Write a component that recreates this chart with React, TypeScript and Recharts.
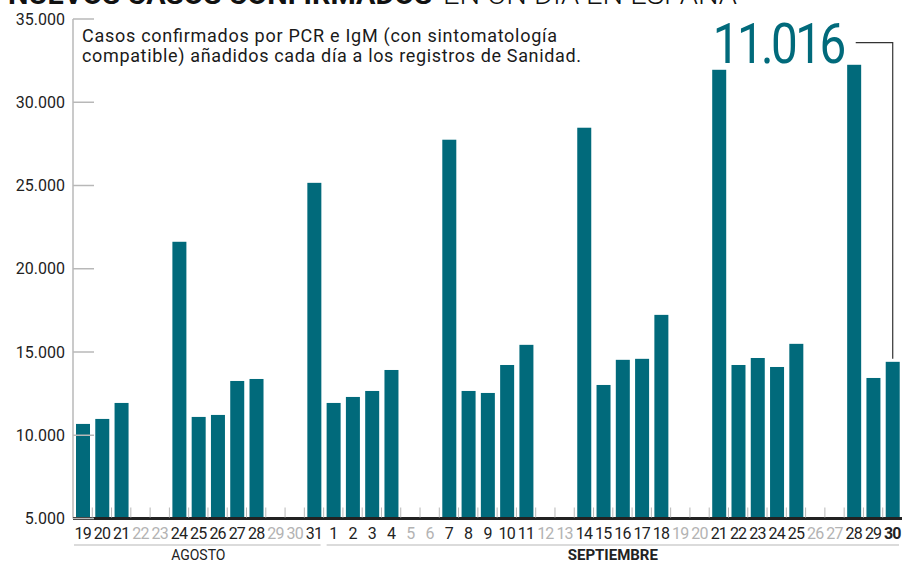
import { BarChart, Bar, XAxis, YAxis } from 'recharts'

const augustDays = ['19', '20', '21', '22', '23', '24', '25', '26', '27', '28', '29', '30', '31']
const septemberDays = [
  '1', '2', '3', '4', '5', '6', '7', '8', '9', '10', '11', '12', '13', '14', '15',
  '16', '17', '18', '19', '20', '21', '22', '23', '24', '25', '26', '27', '28', '29', '30',
]
// null = fin de semana, sin datos
const augustCases = [10680, 10980, 11940, null, null, 21620, 11100, 11220, 13260, 13380, null, null, 25160]
const septemberCases = [
  11940, 12300, 12660, 13920, null, null, 27750, 12660, 12540, 14220, 15430, null, null, 28470, 13020,
  14530, 14590, 17230, null, null, 31950, 14220, 14640, 14100, 15490, null, null, 32250, 13440, 14410,
]
const months = ['AGOSTO', 'SEPTIEMBRE']
const yTicks = [5000, 10000, 15000, 20000, 25000, 30000, 35000]
const highlight = '11.016'

const data = [
  ...augustDays.map((day, i) => ({ key: `${day}-ago`, day, month: 0, cases: augustCases[i] })),
  ...septemberDays.map((day, i) => ({ key: `${day}-sep`, day, month: 1, cases: septemberCases[i] })),
]
const monthCounts = months.map((_, m) => data.filter(d => d.month === m).length)
const lastIndex = data.length - 1
const lastKey = data[lastIndex].key

const TEAL = '#016a7b'
const FONT = 'Roboto, "Noto Sans", sans-serif'

const fmt = (n: number) => n.toString().replace(/\B(?=(\d{3})+(?!\d))/g, '.')

const ValueTick = (props: any) => {
  const { x, y, payload } = props
  return (
    <g>
      <line x1={x + 8} x2={x + 29} y1={y} y2={y} stroke="#b8b8b8" strokeWidth={1.5} />
      <text x={x} y={y} dy={5.5} textAnchor="end" fontSize={16} fill="#222" fontFamily={FONT}>
        {fmt(payload.value)}
      </text>
    </g>
  )
}

const DayTick = (props: any) => {
  const { x, y, payload, index, width } = props
  const half = payload.offset ?? width / (2 * data.length)
  const row = data[index]
  if (!row) return null
  const left = x - half
  const isLast = index === lastIndex
  const empty = row.cases == null
  const firstOfMonth = index === 0 || data[index - 1].month !== row.month
  const span = monthCounts[row.month] * half * 2
  return (
    <g>
      {index > 0 && <line x1={left} x2={left} y1={y - 11} y2={y - 1} stroke="#b8b8b8" strokeWidth={1} />}
      <text
        x={x}
        y={y + 20.5}
        textAnchor="middle"
        fontSize={16}
        letterSpacing={-0.8}
        fontWeight={isLast ? 700 : 400}
        fill={empty ? '#b3b3b3' : '#222'}
        fontFamily={FONT}
      >
        {row.day}
      </text>
      {firstOfMonth && (
        <g>
          <line
            x1={left + (index === 0 ? 1 : 3)}
            x2={left + span - 3}
            y1={y + 26.5}
            y2={y + 26.5}
            stroke="#b8b8b8"
            strokeWidth={1.2}
          />
          <text
            x={left + span / 2}
            y={y + 41.5}
            textAnchor="middle"
            fontSize={row.month === 1 ? 15 : 14}
            fontWeight={row.month === 1 ? 700 : 400}
            fill="#222"
            fontFamily={FONT}
          >
            {months[row.month]}
          </text>
        </g>
      )}
    </g>
  )
}

// bar + callout on the latest day
const CaseBar = (props: any) => {
  const { x, y, width, height, index, payload } = props
  if (x == null || !height) return null
  const cx = x + width / 2
  const topY = 42.7
  const isLast = payload?.key === lastKey || index === lastIndex
  return (
    <g>
      <rect x={x} y={y} width={width} height={height} fill={TEAL} />
      {isLast && (
        <g>
          <polyline
            points={`${cx - 37},${topY} ${cx},${topY} ${cx},${y - 3}`}
            fill="none"
            stroke="#333"
            strokeWidth={1.2}
          />
          <text
            x={cx - 180}
            y={63.3}
            fontSize={56}
            fontWeight={400}
            letterSpacing={-3}
            fill={TEAL}
            fontFamily={FONT}
            textLength={131}
            lengthAdjust="spacingAndGlyphs"
          >
            {highlight}
          </text>
        </g>
      )}
    </g>
  )
}

export default function App() {
  return (
    <div style={{ position: 'absolute', left: 0, top: 0, width: 903, height: 565, background: '#fff' }}>
      <BarChart
        width={903}
        height={565}
        data={data}
        margin={{ top: 19, right: 1, left: 0, bottom: 0 }}
        barSize={14}
      >
        <YAxis
          domain={[5000, 35000]}
          ticks={yTicks}
          width={73}
          tickSize={0}
          tickMargin={8}
          tick={<ValueTick />}
          axisLine={{ stroke: '#b8b8b8', strokeWidth: 1.5 }}
          tickLine={false}
          allowDataOverflow
        />
        <XAxis
          dataKey="key"
          height={46.5}
          interval={0}
          tickSize={0}
          tickMargin={0}
          tickLine={false}
          tick={<DayTick />}
          axisLine={{ stroke: '#222', strokeWidth: 3 }}
        />
        <Bar dataKey="cases" fill={TEAL} shape={(p: any) => <CaseBar {...p} />} isAnimationActive={false} />
      </BarChart>
      <svg
        width={903}
        height={70}
        style={{ position: 'absolute', left: 0, top: 0, pointerEvents: 'none' }}
        fontFamily={FONT}
      >
        <text x={8} y={4} fontSize={28} fontWeight={700} fill="#111" textLength={424} lengthAdjust="spacingAndGlyphs">
          NUEVOS CASOS CONFIRMADOS
        </text>
        <text x={443} y={4} fontSize={28} fontWeight={300} fill="#111" textLength={294} lengthAdjust="spacingAndGlyphs">
          EN UN DÍA EN ESPAÑA
        </text>
        <text x={82} y={42} fontSize={18} fill="#1a1a1a" textLength={475}>
          Casos confirmados por PCR e IgM (con sintomatología
        </text>
        <text x={82} y={62} fontSize={18} fill="#1a1a1a" textLength={499}>
          compatible) añadidos cada día a los registros de Sanidad.
        </text>
      </svg>
    </div>
  )
}
